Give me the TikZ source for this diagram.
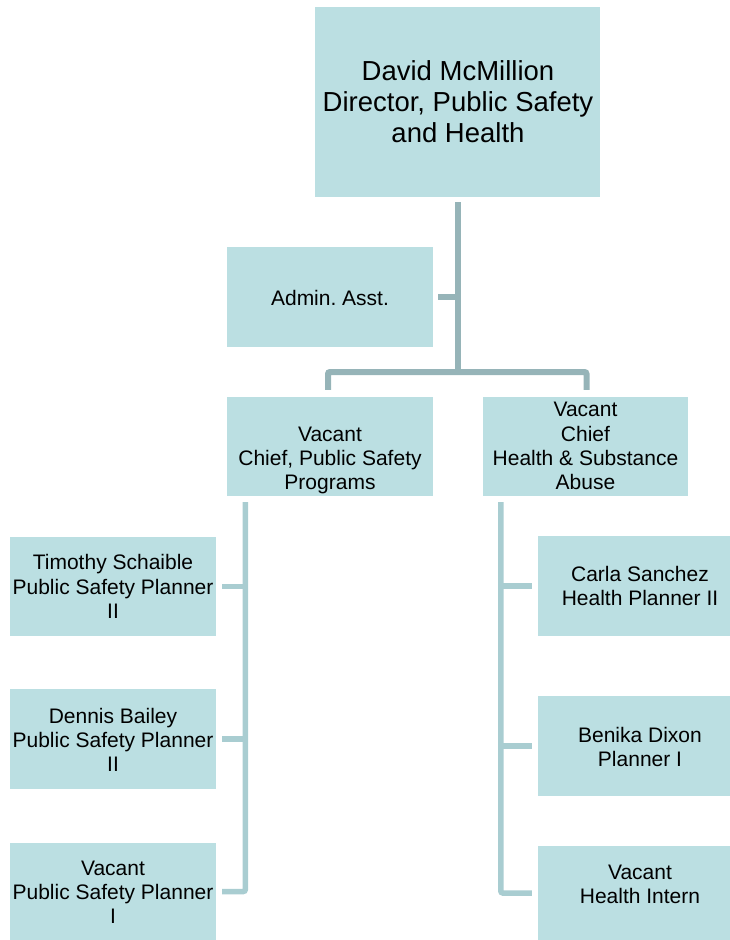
\documentclass[tikz,border=0pt]{standalone}
\usepackage{fontspec}
\setmainfont{Liberation Sans}
\usetikzlibrary{calc}
\definecolor{boxfill}{HTML}{BBDFE2}
\definecolor{trunkline}{HTML}{96B4B8}
\definecolor{branchline}{HTML}{A9CDD1}
\frenchspacing

\begin{document}
\begin{tikzpicture}[x=1pt,y=-1pt,
  orgbox/.style={fill=boxfill, draw=none, inner sep=0pt},
  orgtext/.style={inner sep=0pt, align=center, text=black,
                  font=\fontsize{21}{24.2}\selectfont},
  trunk/.style={draw=trunkline, line width=6pt, rounded corners=2pt},
  branch/.style={draw=branchline, line width=5.5pt, rounded corners=2pt}]

\useasboundingbox (0,0) rectangle (730,940);

% ---- boxes ----
\node[orgbox, minimum width=285pt, minimum height=190pt] (dir) at (457.5,102) {};
\node[orgbox, minimum width=206pt, minimum height=100pt] (adm) at (330,297) {};
\node[orgbox, minimum width=206pt, minimum height=99pt]  (ps)  at (330,446.5) {};
\node[orgbox, minimum width=205pt, minimum height=99pt]  (hs)  at (585.5,446.5) {};

\node[orgbox, minimum width=206pt, minimum height=99pt]  (l1) at (113,586.5) {};
\node[orgbox, minimum width=206pt, minimum height=100pt] (l2) at (113,739) {};
\node[orgbox, minimum width=206pt, minimum height=97pt]  (l3) at (113,891.5) {};

\node[orgbox, minimum width=192pt, minimum height=100pt] (r1) at (634,586) {};
\node[orgbox, minimum width=192pt, minimum height=100pt] (r2) at (634,746) {};
\node[orgbox, minimum width=192pt, minimum height=94pt]  (r3) at (634,893) {};

% ---- texts ----
\node[orgtext, font=\fontsize{27.5}{31}\selectfont] (dirT) at (458,102)
  {David McMillion\\Director, Public Safety\\and Health};
\node[orgtext] (admT) at (330,297.5) {Admin. Asst.};
\node[orgtext] (psT) at (330,460.5) {Vacant\\Chief, Public Safety\\Programs};
\node[orgtext] (hsT) at (585.5,446) {Vacant\\Chief\\Health \& Substance\\Abuse};

\node[orgtext] (l1T) at (113,586.5) {Timothy Schaible\\Public Safety Planner\\II};
\node[orgtext] (l2T) at (113,740) {Dennis Bailey\\Public Safety Planner\\II};
\node[orgtext] (l3T) at (113,892) {Vacant\\Public Safety Planner\\I};

\node[orgtext] (r1T) at (640,586) {Carla Sanchez\\Health Planner II};
\node[orgtext] (r2T) at (640,747) {Benika Dixon\\Planner I};
\node[orgtext] (r3T) at (640,884) {Vacant\\Health Intern};

% ---- connectors: director level ----
\coordinate (hub) at (457.5,372);
\draw[trunk] ($(dir.south)+(0,5)$) -- (hub);
\draw[trunk] ($(adm.east)+(5,0)$) -- (adm.east -| hub);
\draw[trunk] ($(ps.north)+(-2,-7)$) |- (hub) -| ($(hs.north)+(1,-7)$);

% ---- connectors: public safety programs ----
\coordinate (lspine) at ($(ps.south west)+(18.5,6)$);
\draw[branch] (lspine) |- ($(l3.east)+(6,0)$);
\draw[branch] ($(l1.east)+(6,0)$) -- (l1.east -| lspine);
\draw[branch] ($(l2.east)+(6,0)$) -- (l2.east -| lspine);

% ---- connectors: health & substance abuse ----
\coordinate (rspine) at ($(hs.south west)+(18,6)$);
\draw[branch] (rspine) |- ($(r3.west)+(-6,0)$);
\draw[branch] ($(r1.west)+(-6,0)$) -- (r1.west -| rspine);
\draw[branch] ($(r2.west)+(-6,0)$) -- (r2.west -| rspine);

\end{tikzpicture}
\end{document}
